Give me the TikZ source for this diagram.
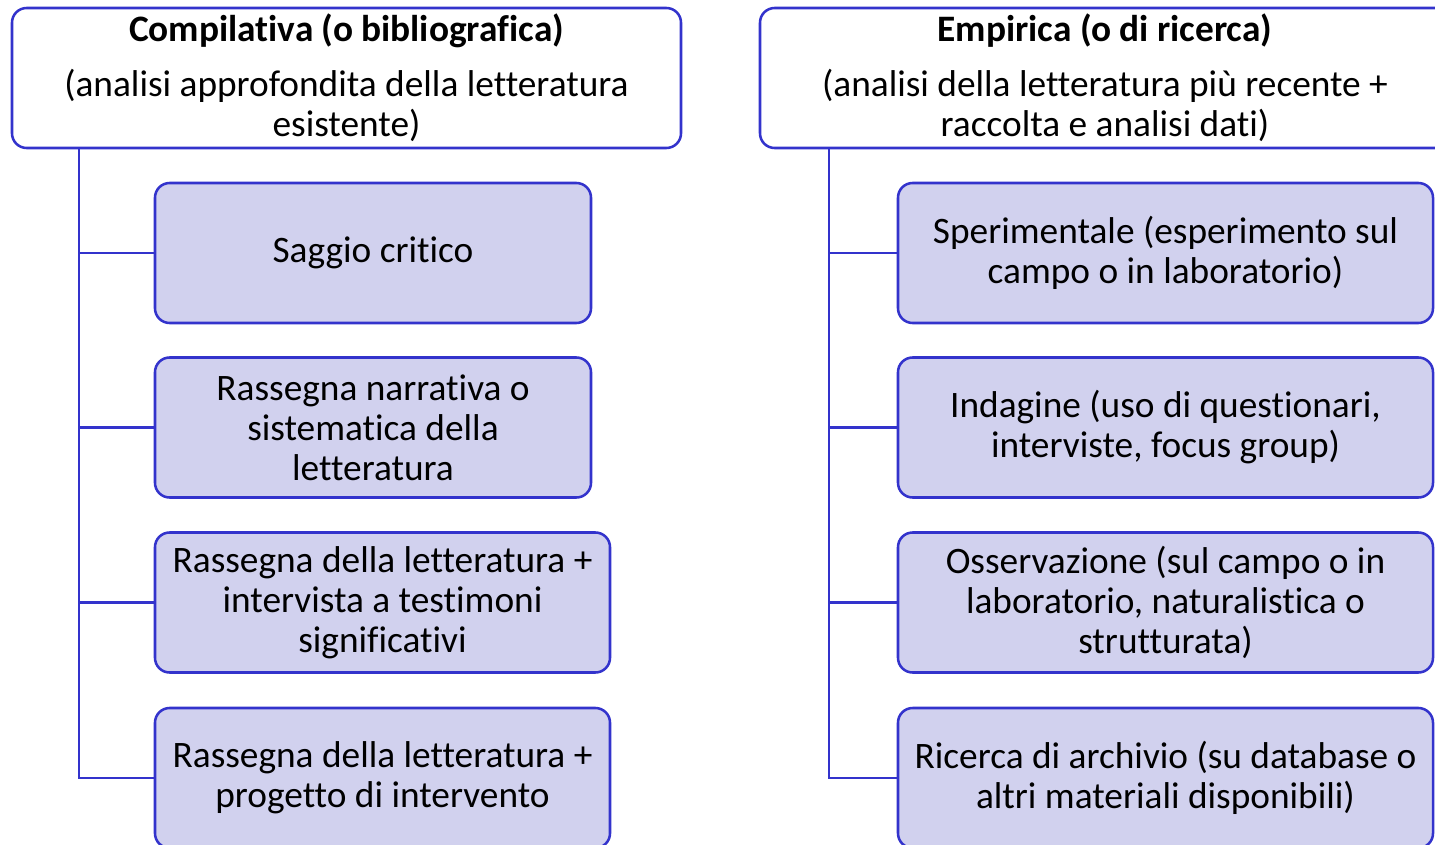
\documentclass[tikz,border=0pt]{standalone}
\usepackage{fontspec}
\setmainfont{Carlito}[Ligatures=CommonOff]
\usetikzlibrary{positioning}
\definecolor{TSblue}{RGB}{51,51,204}
\definecolor{TSlavender}{RGB}{209,209,238}
\tikzset{
  head/.style={rounded corners=11pt,draw=TSblue,line width=1.9pt,fill=white,
               text=black,align=center,inner sep=4pt,font=\fontsize{28}{30}\selectfont,
               minimum height=105pt},
  kind/.style={rounded corners=11pt,draw=TSblue,line width=1.9pt,fill=TSlavender,
               text=black,align=center,inner sep=4pt,font=\fontsize{28}{30}\selectfont,
               minimum height=105pt},
  link/.style={line width=1.9pt,draw=TSblue},
}

\begin{document}
\begin{tikzpicture}[x=0.75pt,y=-0.75pt]
    \clip (0,0) rectangle (1435,845);
    \fill[white] (0,0) rectangle (1435,845);
    % compilativa
    \node[head,minimum width=501.75pt] (ctitle) at (346.5,78) {\textbf{Compilativa (o bibliografica)}\\[11pt](analisi approfondita della letteratura\\esistente)};
    \node[kind,minimum width=327pt] (c1) at (373,253) {Saggio critico};
    \node[kind,minimum width=327pt] (c2) at (373,427.5) {Rassegna narrativa o\\sistematica della\\letteratura};
    \node[kind,minimum width=341.25pt] (c3) at (382.5,602.5) {Rassegna della letteratura +\\intervista a testimoni\\significativi};
    \node[kind,minimum width=341.25pt] (c4) at (382.5,778) {Rassegna della letteratura +\\progetto di intervento};
    % empirica
    \node[head,minimum width=517.5pt] (etitle) at (1105,78) {\textbf{Empirica (o di ricerca)}\\[11pt](analisi della letteratura più recente +\\raccolta e analisi dati)};
    \node[kind,minimum width=401.25pt] (e1) at (1165.5,253) {Sperimentale (esperimento sul\\campo o in laboratorio)};
    \node[kind,minimum width=401.25pt] (e2) at (1165.5,427.5) {Indagine (uso di questionari,\\interviste, focus group)};
    \node[kind,minimum width=401.25pt] (e3) at (1165.5,602.5) {Osservazione (sul campo o in\\laboratorio, naturalistica o\\strutturata)};
    \node[kind,minimum width=401.25pt] (e4) at (1165.5,778) {Ricerca di archivio (su database o\\altri materiali disponibili)};
    \coordinate (cspine) at (79,148);
    \coordinate (espine) at (829,148);
    \draw[link] (cspine) |- (c4.west);
    \draw[link] (cspine |- c1.west) -- (c1.west);
    \draw[link] (cspine |- c2.west) -- (c2.west);
    \draw[link] (cspine |- c3.west) -- (c3.west);
    \draw[link] (espine) |- (e4.west);
    \draw[link] (espine |- e1.west) -- (e1.west);
    \draw[link] (espine |- e2.west) -- (e2.west);
    \draw[link] (espine |- e3.west) -- (e3.west);
  \end{tikzpicture}
\end{document}
